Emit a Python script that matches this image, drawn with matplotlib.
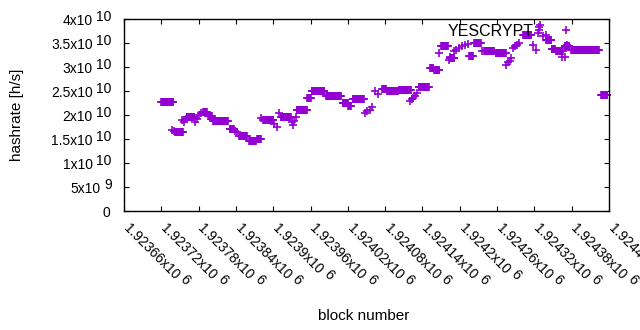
import numpy as np
import matplotlib
matplotlib.use("Agg")
import matplotlib.pyplot as plt

plt.rcParams['font.family'] = ['Liberation Sans', 'DejaVu Sans']

# ---- data (hashrate in units of 1e10 h/s) ----
# runs of consecutive blocks with constant hashrate
run_first = [1923720, 1923742, 1923761, 1923787, 1923795, 1923803, 1923830, 1923845,
             1923861, 1923874, 1923884, 1923912, 1923938, 1923955, 1923962, 1923985,
             1924012, 1924021, 1924028, 1924075, 1924083, 1924102, 1924134, 1924152,
             1924159, 1924170, 1924184, 1924215, 1924223, 1924239, 1924258, 1924302,
             1924339, 1924348, 1924355, 1924369, 1924379, 1924427]
run_last = [1923739, 1923755, 1923773, 1923793, 1923801, 1923827, 1923837, 1923858,
            1923872, 1923880, 1923900, 1923928, 1923954, 1923960, 1923982, 1924009,
            1924020, 1924025, 1924046, 1924081, 1924100, 1924121, 1924150, 1924157,
            1924167, 1924181, 1924191, 1924221, 1924234, 1924255, 1924274, 1924315,
            1924347, 1924353, 1924366, 1924376, 1924424, 1924437]
run_rate = [2.27, 1.64, 1.95, 2.07, 1.97, 1.875, 1.70, 1.56,
            1.465, 1.49, 1.90, 1.96, 2.10, 2.35, 2.51, 2.39,
            2.245, 2.19, 2.33, 2.545, 2.50, 2.52, 2.59, 2.97,
            2.93, 3.44, 3.19, 3.22, 3.50, 3.34, 3.30, 3.67,
            3.57, 3.38, 3.33, 3.43, 3.345, 2.41]

# individual blocks
pt_block = [1923737, 1923740, 1923753, 1923757, 1923760, 1923774, 1923777, 1923781,
            1923784, 1923839, 1923842, 1923881, 1923902, 1923906, 1923910, 1923930,
            1923932, 1923933, 1923936, 1924048, 1924051, 1924056, 1924059, 1924064,
            1924068, 1924120, 1924123, 1924125, 1924128, 1924131, 1924167, 1924182,
            1924184, 1924190, 1924194, 1924198, 1924203, 1924208, 1924213, 1924235,
            1924274, 1924277, 1924280, 1924282, 1924285, 1924289, 1924292, 1924295,
            1924318, 1924323, 1924326, 1924327, 1924328, 1924329, 1924334, 1924338,
            1924365, 1924369, 1924372]
pt_rate = [1.69, 1.66, 1.89, 1.85, 1.92, 1.85, 1.92, 1.99,
           2.04, 1.66, 1.64, 1.94, 1.81, 1.74, 2.04, 1.85,
           1.80, 1.87, 1.95, 2.05, 2.075, 2.11, 2.17, 2.51,
           2.44, 2.29, 2.33, 2.36, 2.39, 2.46, 3.29, 3.15,
           3.21, 3.325, 3.36, 3.40, 3.43, 3.465, 3.48, 3.325,
           3.05, 3.10, 3.13, 3.18, 3.40, 3.43, 3.465, 3.51,
           3.45, 3.345, 3.71, 3.78, 3.84, 3.88, 3.64, 3.67,
           3.21, 3.21, 3.45]

x_ticks = [1923660, 1923720, 1923780, 1923840, 1923900, 1923960, 1924020, 1924080,
           1924140, 1924200, 1924260, 1924320, 1924380, 1924440]
x_tick_main = ['%gx10' % (t / 1e6) for t in x_ticks]
x_tick_exp = ['6'] * len(x_ticks)
y_ticks = [0, 0.5e10, 1.0e10, 1.5e10, 2.0e10, 2.5e10, 3.0e10, 3.5e10, 4.0e10]
y_tick_main = ['0', '5x10', '1x10', '1.5x10', '2x10', '2.5x10', '3x10', '3.5x10', '4x10']
y_tick_exp = ['', '9', '10', '10', '10', '10', '10', '10', '10']

# ---- assemble series ----
blocks = []
rates = []
for f, l, r in zip(run_first, run_last, run_rate):
    for b in range(f, l + 1):
        blocks.append(b)
        rates.append(r * 1e10)
for b, r in zip(pt_block, pt_rate):
    blocks.append(b)
    rates.append(r * 1e10)

color = '#9400d3'
fs_tick = 10
fig = plt.figure(figsize=(6.4, 3.3), dpi=100)
ax = fig.add_axes([124 / 640, 1 - 211 / 330, 485 / 640, 192 / 330])

ax.plot(blocks, rates, linestyle='none', marker='+', ms=6.3, mew=1.2,
        color=color, label='YESCRYPT', clip_on=False)

ax.set_xlim(1923660, 1924440)
ax.set_ylim(0, 4e10)
ax.set_xticks(x_ticks)
ax.set_yticks(y_ticks)
ax.set_xticklabels([])
ax.set_yticklabels([])
ax.tick_params(direction='in', length=3.5, width=0.8, top=True, right=True,
               colors='black')
for s in ax.spines.values():
    s.set_linewidth(1.0)

renderer = fig.canvas.get_renderer()


def width_pt(s, fs):
    t = fig.text(0, 0, s, fontsize=fs)
    w = t.get_window_extent(renderer).width * 72.0 / fig.dpi
    t.remove()
    return w


cap = 0.716 * fs_tick
gap = 2.7
raise_ = 2.8

# y tick labels: mantissa + raised exponent (same size, gnuplot style)
pad_y = 8.8
for v, m, e in zip(y_ticks, y_tick_main, y_tick_exp):
    base_y = -cap / 2 - 0.7
    if e:
        ew = width_pt(e, fs_tick)
        ax.annotate(e, xy=(0, v), xycoords=('axes fraction', 'data'),
                    xytext=(-pad_y, base_y + raise_), textcoords='offset points',
                    ha='right', va='baseline', fontsize=fs_tick, annotation_clip=False)
        ax.annotate(m, xy=(0, v), xycoords=('axes fraction', 'data'),
                    xytext=(-pad_y - ew - gap, base_y), textcoords='offset points',
                    ha='right', va='baseline', fontsize=fs_tick, annotation_clip=False)
    else:
        ax.annotate(m, xy=(0, v), xycoords=('axes fraction', 'data'),
                    xytext=(-pad_y - 1.0, base_y), textcoords='offset points',
                    ha='right', va='baseline', fontsize=fs_tick, annotation_clip=False)

# x tick labels rotated by -45 degrees
c45 = np.sqrt(0.5)
along = np.array([c45, -c45])   # text direction in offset points (y up)
up = np.array([c45, c45])       # text "up" direction
start = np.array([4.2, -8.0]) - cap * up
for t, m, e in zip(x_ticks, x_tick_main, x_tick_exp):
    mw = width_pt(m, fs_tick)
    ax.annotate(m, xy=(t, 0), xycoords=('data', 'axes fraction'),
                xytext=tuple(start), textcoords='offset points',
                rotation=-45, rotation_mode='anchor', ha='left', va='baseline',
                fontsize=fs_tick, annotation_clip=False)
    p = start + (mw + gap) * along + raise_ * up
    ax.annotate(e, xy=(t, 0), xycoords=('data', 'axes fraction'),
                xytext=tuple(p), textcoords='offset points',
                rotation=-45, rotation_mode='anchor', ha='left', va='baseline',
                fontsize=fs_tick, annotation_clip=False)

ax.set_xlabel('block number', fontsize=11)
ax.xaxis.set_label_coords((364 - 124) / 485, (211 - 309) / 192)
ax.set_ylabel('hashrate [h/s]', fontsize=11)
ax.yaxis.set_label_coords((24 - 124) / 485, (211 - 115) / 192)

ax.legend(loc='center right', bbox_to_anchor=((586 - 124) / 485, (211 - 31) / 192),
          markerfirst=False, frameon=False, fontsize=11.5, handlelength=2.5,
          handletextpad=0.8, borderpad=0, borderaxespad=0)

fig.savefig('out.png', dpi=100)
